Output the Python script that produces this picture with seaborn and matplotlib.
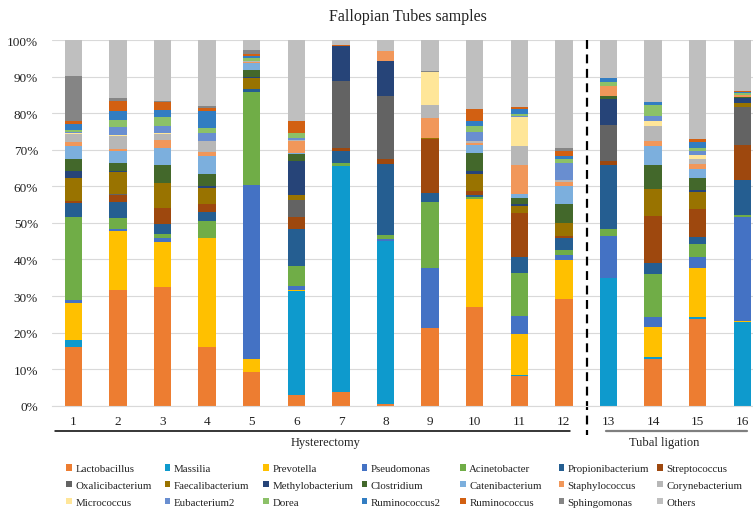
import matplotlib
matplotlib.use("Agg")
import matplotlib.pyplot as plt
from matplotlib.patches import Patch
from matplotlib.ticker import PercentFormatter
import numpy as np
import pandas as pd
import seaborn as sns

samples = [str(i) for i in range(1, 17)]

taxa = ["Lactobacillus", "Massilia", "Prevotella", "Pseudomonas", "Acinetobacter",
        "Propionibacterium", "Streptococcus", "Oxalicibacterium", "Faecalibacterium",
        "Methylobacterium", "Clostridium", "Catenibacterium", "Staphylococcus",
        "Corynebacterium", "Micrococcus", "Eubacterium2", "Dorea", "Ruminococcus2",
        "Ruminococcus", "Sphingomonas", "Others"]

colors = ["#ED7D31", "#0E9ACD", "#FFC000", "#4472C4", "#70AD47", "#255E91", "#9E480E",
          "#636363", "#997300", "#264478", "#43682B", "#7CAFDD", "#F1975A", "#B7B7B7",
          "#FFE699", "#698ED0", "#8CC168", "#327DC2", "#D26012", "#858585", "#BFBFBF"]

# relative abundance (%) per sample 1..16
lactobacillus = [16.1, 31.7, 32.5, 16.0, 9.1, 2.9, 3.8, 0.4, 21.2, 26.9, 8.2, 29.2, 0, 12.9, 23.7, 0]
massilia = [1.9, 0, 0, 0, 0, 28.5, 61.7, 44.6, 0, 0, 0.3, 0, 34.8, 0.3, 0.5, 22.8]
prevotella = [10.1, 16.1, 12.4, 29.8, 3.8, 0.2, 0, 0, 0, 29.7, 11.1, 10.7, 0, 8.2, 13.5, 0.4]
pseudomonas = [0.9, 0.5, 0.9, 0.2, 47.4, 1.2, 0, 0.6, 16.5, 0, 5.0, 1.3, 11.5, 2.9, 3.1, 28.3]
acinetobacter = [22.6, 3.1, 1.2, 4.6, 25.4, 5.3, 1.0, 1.2, 18.1, 0.5, 11.6, 1.5, 2.0, 11.7, 3.4, 0.6]
propionibacterium = [3.8, 4.3, 2.7, 2.4, 0.9, 10.3, 3.1, 19.4, 2.5, 0.6, 4.5, 3.2, 17.6, 3.0, 2.0, 9.5]
streptococcus = [0.7, 1.9, 4.4, 2.2, 0, 3.3, 0.9, 1.3, 14.6, 1.1, 12.0, 0.6, 1.1, 13.0, 7.6, 9.8]
oxalicibacterium = [0, 0.3, 0, 0, 0, 4.6, 18.3, 17.2, 0, 0, 0, 0, 9.9, 0, 0, 10.3]
faecalibacterium = [6.3, 5.9, 6.9, 4.3, 2.9, 1.4, 0, 0, 0.2, 4.6, 2.0, 3.4, 0, 7.4, 4.7, 1.0]
methylobacterium = [1.8, 0.3, 0, 0.6, 0.5, 9.2, 9.5, 9.7, 0, 0.8, 0.5, 0, 7.0, 0, 0.4, 1.4]
clostridium = [3.3, 2.4, 4.8, 3.2, 1.8, 1.9, 0, 0, 0, 4.8, 1.6, 5.4, 0.9, 6.4, 3.5, 0.3]
catenibacterium = [3.4, 3.1, 4.6, 5.1, 2.0, 0.3, 0, 0, 0, 2.3, 1.1, 4.7, 0, 5.1, 2.3, 0]
staphylococcus = [1.3, 0.6, 2.2, 1.1, 0.2, 3.2, 0, 2.7, 5.5, 0.6, 8.0, 1.1, 2.5, 1.5, 1.5, 0.6]
corynebacterium = [2.0, 3.5, 1.8, 2.8, 0.4, 0.4, 0, 0, 3.6, 0.6, 5.2, 0.7, 0, 4.2, 1.4, 0]
micrococcus = [0.3, 0.3, 0.3, 0, 0, 0, 0, 0, 9.0, 0, 7.8, 0, 0, 1.3, 1.0, 0]
eubacterium2 = [0.4, 2.2, 1.7, 2.4, 0, 0.5, 0, 0, 0, 2.4, 0.4, 4.6, 0, 1.2, 1.1, 0]
dorea = [0.6, 2.0, 2.5, 1.3, 0.6, 1.4, 0, 0, 0, 1.6, 0.6, 1.1, 1.3, 3.1, 0.9, 0.4]
ruminococcus2 = [1.5, 2.4, 2.0, 4.5, 0.6, 0, 0, 0, 0, 1.4, 1.2, 0.7, 0.9, 0.9, 1.4, 0.3]
ruminococcus = [0.8, 2.8, 2.1, 0.9, 0.6, 3.2, 0.3, 0, 0, 3.2, 0.5, 1.4, 0, 0, 0.9, 0.5]
sphingomonas = [12.4, 0.7, 0.3, 0.6, 1.0, 0, 0, 0, 0.3, 0, 0, 0.9, 0, 0, 0, 0]
others = [9.8, 15.9, 16.7, 18.0, 2.8, 22.2, 1.4, 2.9, 8.5, 18.9, 18.4, 29.5, 10.5, 16.9, 27.1, 13.8]

values = [lactobacillus, massilia, prevotella, pseudomonas, acinetobacter,
          propionibacterium, streptococcus, oxalicibacterium, faecalibacterium,
          methylobacterium, clostridium, catenibacterium, staphylococcus,
          corynebacterium, micrococcus, eubacterium2, dorea, ruminococcus2,
          ruminococcus, sphingomonas, others]

# long format table
df = pd.DataFrame([(s, t, v) for t, vals in zip(taxa, values) for s, v in zip(samples, vals)],
                  columns=["sample", "taxon", "value"])

sns.set_style("white")
plt.rcParams["font.family"] = ["Liberation Serif", "DejaVu Serif"]

fig = plt.figure(figsize=(7.53, 5.10), dpi=100)
ax = fig.add_axes([52 / 753, 0.2025, 701 / 753, 0.717])

bottom = np.zeros(len(samples))
for t, c in zip(taxa, colors):
    sub = df[df["taxon"] == t]
    sns.barplot(data=sub, x="sample", y="value", order=samples, color=c,
                saturation=1, width=0.39, errorbar=None, bottom=bottom, ax=ax,
                linewidth=0, edgecolor="none")
    bottom = bottom + sub["value"].to_numpy()

ax.set_xlim(-0.48, 15.24)
ax.set_ylim(0, 100)
ax.set_yticks(range(0, 101, 10))
ax.yaxis.set_major_formatter(PercentFormatter(100, decimals=0))
ax.yaxis.grid(True, color="#D9D9D9", lw=0.8)
ax.set_axisbelow(True)
ax.set_xlabel("")
ax.set_ylabel("")
for s in ["left", "top", "right"]:
    ax.spines[s].set_visible(False)
ax.spines["bottom"].set_color("#D9D9D9")
ax.tick_params(axis="both", length=0, labelsize=9.5, colors="#222222")
ax.tick_params(axis="y", pad=10)
ax.tick_params(axis="x", pad=7)

# group separator and group lines
trans = ax.get_xaxis_transform()
ax.plot([11.51, 11.51], [1.0, -0.08], transform=trans, clip_on=False,
        color="black", lw=1.6, dashes=(4, 2.5))
ax.plot([-0.415, 11.13], [-0.069, -0.069], transform=trans, clip_on=False, color="black", lw=1.1)
ax.plot([11.94, 15.1], [-0.069, -0.069], transform=trans, clip_on=False, color="#7F7F7F", lw=1.6)
ax.text(5.65, -0.10, "Hysterectomy", transform=trans, ha="center", va="center", fontsize=9, color="#222222")
ax.text(13.25, -0.10, "Tubal ligation", transform=trans, ha="center", va="center", fontsize=9, color="#222222")

fig.text(408 / 753, 1 - 17 / 510, "Fallopian Tubes samples", ha="center", va="center",
         fontsize=11.5, color="#222222")

# legend: 7 columns with fixed spacing, filled row by row
for j in range(7):
    idx = [j, j + 7, j + 14]
    handles = [Patch(facecolor=colors[i], edgecolor="none") for i in idx]
    labels = [taxa[i] for i in idx]
    fig.legend(handles, labels, loc="upper left",
               bbox_to_anchor=((66 + 98.5 * j) / 753, 1 - 465 / 510),
               frameon=False, fontsize=7.8, handlelength=0.55, handleheight=0.55,
               handletextpad=0.3, labelspacing=0.72, borderpad=0, borderaxespad=0,
               labelcolor="#222222")

fig.savefig("out.png", dpi=100)
